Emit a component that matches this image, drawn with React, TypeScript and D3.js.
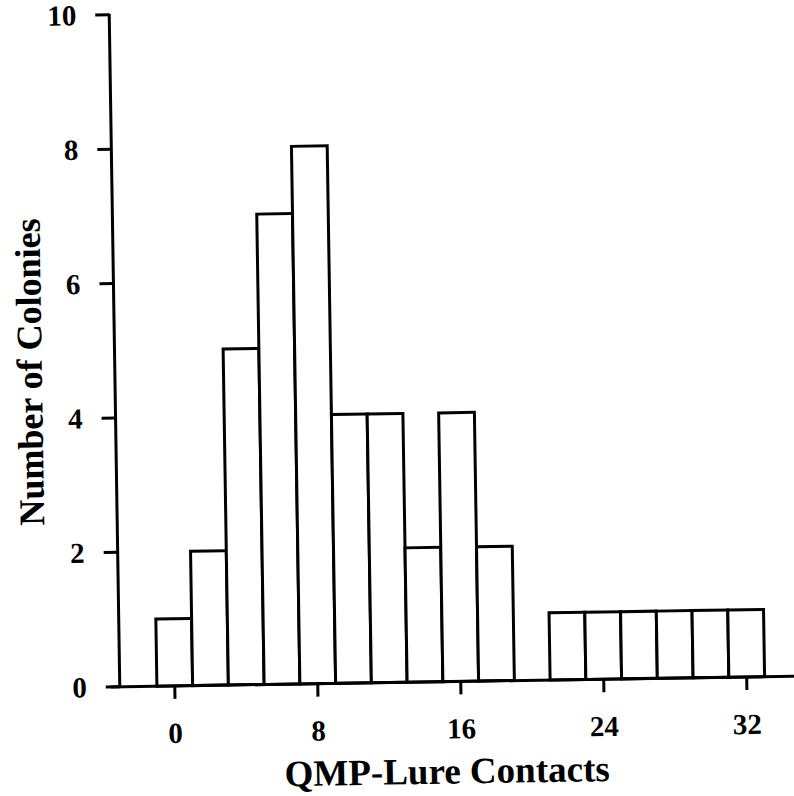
import React from 'react';
import * as d3 from 'd3';

// Histogram of colonies by number of QMP-lure contacts (bins of width 2)
const binCenters = [0, 2, 4, 6, 8, 10, 12, 14, 16, 18, 22, 24, 26, 28, 30, 32];
const colonyCounts = [1, 2, 5, 7, 8, 4, 4, 2, 4, 2, 1, 1, 1, 1, 1, 1];
const xTicks = [0, 8, 16, 24, 32];
const yTicks = [0, 2, 4, 6, 8, 10];
const binWidth = 2;

const W = 794;
const H = 796;
const FONT = '"Liberation Serif", "Times New Roman", serif';

export default function App() {
  const x = d3.scaleLinear().domain([0, 32]).range([170, 742]);
  const y = d3.scaleLinear().domain([0, 10]).range([682, 10]);
  const axisX = 115;
  const axisY = y(0);

  const bars = binCenters.map((c, i) => ({ c, v: colonyCounts[i] }));

  return (
    <svg
      width={W}
      height={H}
      viewBox={`0 0 ${W} ${H}`}
      style={{ position: 'absolute', left: 0, top: 0, background: '#fff' }}
    >
      <rect x={0} y={0} width={W} height={H} fill="#fff" />
      <g transform={`rotate(-0.9 420 380)`}>
        {/* bars */}
        {bars.map((b, i) => (
          <rect
            key={i}
            x={x(b.c - binWidth / 2)}
            y={y(b.v)}
            width={x(b.c + binWidth / 2) - x(b.c - binWidth / 2)}
            height={axisY - y(b.v)}
            fill="#fff"
            stroke="#000"
            strokeWidth={3}
          />
        ))}

        {/* y axis */}
        <line x1={axisX} y1={y(10) - 1} x2={axisX} y2={axisY} stroke="#000" strokeWidth={3} />
        {yTicks.map((t) => (
          <g key={t}>
            <line x1={axisX - 14} x2={axisX} y1={y(t)} y2={y(t)} stroke="#000" strokeWidth={3} />
            <text
              x={axisX - 33}
              y={y(t) + 10}
              textAnchor="end"
              fontFamily={FONT}
              fontWeight="bold"
              fontSize={29}
              fill="#000"
            >
              {t}
            </text>
          </g>
        ))}

        {/* x axis */}
        <line x1={axisX - 9} y1={axisY} x2={W + 10} y2={axisY} stroke="#000" strokeWidth={3} />
        {xTicks.map((t) => (
          <g key={t}>
            <line x1={x(t)} x2={x(t)} y1={axisY} y2={axisY + 13} stroke="#000" strokeWidth={3} />
            <text
              x={x(t)}
              y={739}
              textAnchor="middle"
              fontFamily={FONT}
              fontWeight="bold"
              fontSize={29}
              fill="#000"
            >
              {t}
            </text>
          </g>
        ))}

        {/* axis titles */}
        <text
          x={441}
          y={784}
          textAnchor="middle"
          fontFamily={FONT}
          fontWeight="bold"
          fontSize={37}
          fill="#000"
        >
          QMP-Lure Contacts
        </text>
        <text
          transform={`translate(42 366) rotate(-90)`}
          textAnchor="middle"
          fontFamily={FONT}
          fontWeight="bold"
          fontSize={36}
          fill="#000"
        >
          Number of Colonies
        </text>
      </g>
    </svg>
  );
}
